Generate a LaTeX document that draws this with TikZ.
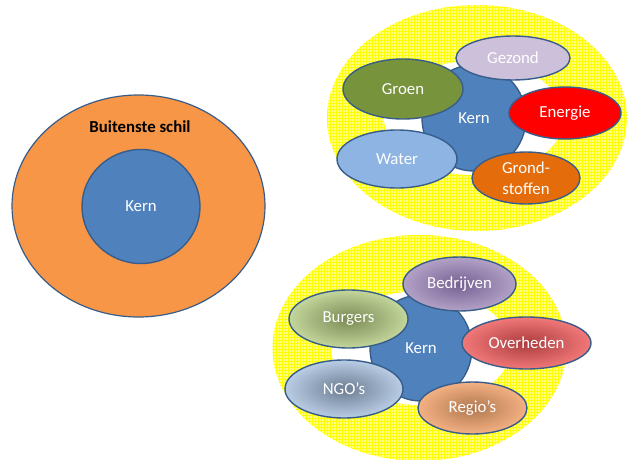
\documentclass[tikz,border=0pt]{standalone}
\usepackage{fontspec}
\setmainfont{Carlito}
\usetikzlibrary{shapes.geometric,patterns}
\definecolor{edge}{HTML}{385D8A}
\definecolor{kernblue}{HTML}{4F81BD}
\definecolor{shell}{HTML}{F79646}
\definecolor{bgyellow}{HTML}{FFFF80}
\definecolor{gridyellow}{HTML}{FFFF00}
\definecolor{gezond}{HTML}{CCC0DA}
\definecolor{groen}{HTML}{77933C}
\definecolor{energie}{HTML}{FF0000}
\definecolor{water}{HTML}{8EB4E3}
\definecolor{grond}{HTML}{E46C0A}
\tikzset{
  blob/.style={ellipse, draw=edge, line width=1.4pt, inner sep=0pt,
    text=white, font=\fontsize{16.8}{21}\selectfont, align=center},
  backdrop/.style={ellipse, inner sep=0pt, fill=bgyellow,
    postaction={pattern=grid, pattern color=gridyellow}},
  gap/.style={ellipse, inner sep=0pt, fill=white},
  sz/.style 2 args={minimum width=#1pt, minimum height=#2pt},
}
\begin{document}
\begin{tikzpicture}[x=1pt,y=-1pt]
\useasboundingbox (0,0) rectangle (629,460);
% left
\node[blob, fill=shell, line width=1.2pt, sz={253}{222}] (outer) at (138.5,206) {};
\node[font=\fontsize{16.8}{21}\selectfont\bfseries, text=black] (schil) at (140,127) {Buitenste schil};
\node[blob, fill=kernblue, sz={118}{114}] (kernL) at (141,206.5) {Kern};
% top right
\node[backdrop, sz={300}{226}] (bgT) at (477,118) {};
\node[gap, sz={180}{114}] (gapT) at (474,118) {};
\node[blob, fill=kernblue, sz={104}{106}] (kernT) at (474,118) {Kern};
\node[blob, fill=gezond, sz={114}{44}] (gezond) at (513,58) {Gezond};
\node[blob, fill=groen, sz={120}{60}] (groen) at (403,89) {Groen};
\node[blob, fill=energie, sz={112}{52}] (energie) at (565,113) {Energie};
\node[blob, fill=water, sz={120}{58}] (water) at (397,159) {Water};
\node[blob, fill=grond, sz={108}{52}] (grond) at (526,178) {Grond-\\stoffen};
% bottom right
\node[backdrop, sz={294}{226}] (bgB) at (419.5,348) {};
\node[gap, sz={180}{114}] (gapB) at (421,348) {};
\node[blob, fill=kernblue, sz={102}{106}] (kernB) at (421,348) {Kern};
\node[blob, inner color={rgb,255:red,118;green,96;blue,146}, outer color={rgb,255:red,179;green,162;blue,199}, sz={113}{54}] (bedrijven) at (459.5,284) {Bedrijven};
\node[blob, inner color={rgb,255:red,122;green,138;blue,84}, outer color={rgb,255:red,195;green,214;blue,155}, sz={119}{58}] (burgers) at (348.5,319) {Burgers};
\node[blob, inner color={rgb,255:red,170;green,60;blue,62}, outer color={rgb,255:red,242;green,120;blue,120}, sz={129}{52}] (overheden) at (526.5,343) {Overheden};
\node[blob, inner color={rgb,255:red,108;green,124;blue,146}, outer color={rgb,255:red,185;green,205;blue,229}, sz={118}{58}] (ngo) at (344,389) {NGO’s};
\node[blob, inner color={rgb,255:red,176;green,120;blue,80}, outer color={rgb,255:red,244;green,177;blue,131}, sz={109}{52}] (regio) at (472.5,408) {Regio’s};
\end{tikzpicture}
\end{document}
